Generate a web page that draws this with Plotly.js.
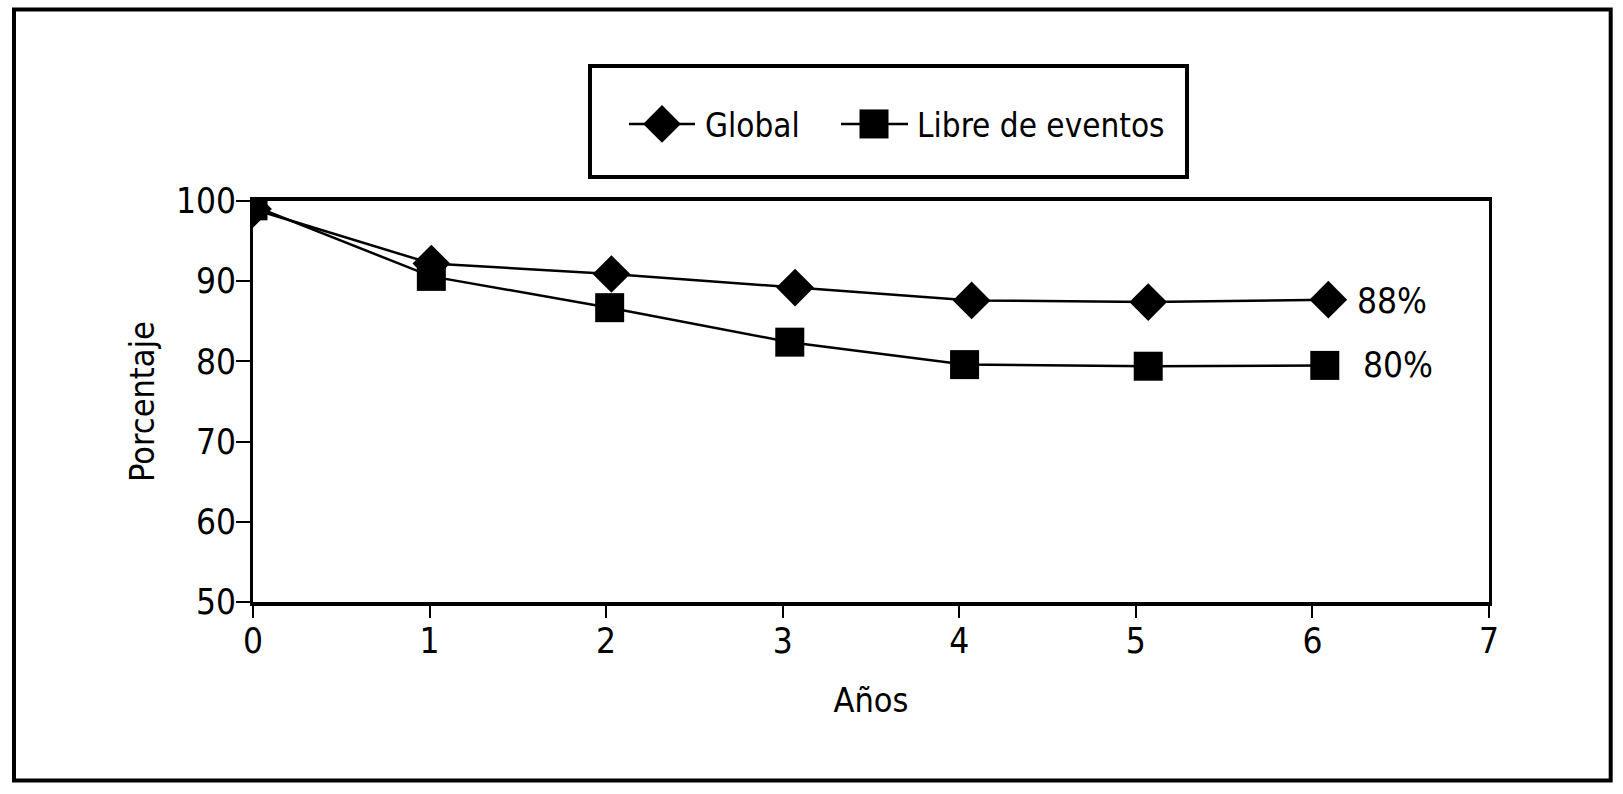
<!DOCTYPE html>
<html><head><meta charset="utf-8">
<script src="https://cdn.plot.ly/plotly-3.0.1.min.js"></script>
<style>html,body{margin:0;padding:0;background:#fff}#chart{width:1623px;height:794px}</style>
</head><body><div id="chart"></div>
<script>
// ---- data ----
const seriesNames = ['Global', 'Libre de eventos'];
const yearsGlobal = [0, 1.01, 2.03, 3.07, 4.07, 5.07, 6.09];
const valuesGlobal = [99.0, 92.2, 90.9, 89.2, 87.6, 87.4, 87.7];
const yearsLibre = [0, 1.01, 2.02, 3.04, 4.03, 5.07, 6.07];
const valuesLibre = [99.4, 90.6, 86.7, 82.4, 79.6, 79.4, 79.5];
const endLabels = ['88%', '80%'];
const xTickVals = [0, 1, 2, 3, 4, 5, 6, 7];
const yTickVals = [50, 60, 70, 80, 90, 100];
const xTitle = 'Años';
const yTitle = 'Porcentaje';

const FONT = '"Liberation Sans Narrow", "DejaVu Sans Condensed", "Arial Narrow", sans-serif';
const FS = 35;
const BLACK = '#000';
const MARKER_SIZE = 29;
const LEGEND_MARKER_SIZE = 16; // plotly caps legend marker size at 16

const traces = [
  {x: yearsGlobal, y: valuesGlobal, name: seriesNames[0], type: 'scatter', mode: 'lines+markers',
   line: {color: BLACK, width: 2.5}, marker: {symbol: 'diamond', size: MARKER_SIZE, color: BLACK}, legend: 'legend'},
  {x: yearsLibre, y: valuesLibre, name: seriesNames[1], type: 'scatter', mode: 'lines+markers',
   line: {color: BLACK, width: 2.5}, marker: {symbol: 'square', size: MARKER_SIZE, color: BLACK}, legend: 'legend2'}
];

const legendCommon = {orientation: 'h', bgcolor: 'rgba(0,0,0,0)', borderwidth: 0, itemwidth: 66,
  font: {family: FONT, size: 33, color: BLACK}, yanchor: 'middle', xanchor: 'left', y: 1.19202,
  itemclick: false, itemdoubleclick: false};

const layout = {
  width: 1623, height: 794,
  paper_bgcolor: '#fff', plot_bgcolor: '#fff',
  margin: {l: 253, r: 134, t: 201, b: 192},
  font: {family: FONT, size: FS, color: BLACK},
  showlegend: true,
  legend: Object.assign({}, legendCommon, {x: 0.30016}),
  legend2: Object.assign({}, legendCommon, {x: 0.47573}),
  xaxis: {range: [0, 7], tickvals: xTickVals, ticks: 'outside', ticklen: 12, tickwidth: 2, tickcolor: BLACK,
    showline: true, linewidth: 4, linecolor: BLACK, mirror: true, showgrid: false, zeroline: false,
    ticklabelstandoff: -7,
    tickfont: {family: FONT, size: FS, color: BLACK},
    title: {text: xTitle, font: {family: FONT, size: 34, color: BLACK}, standoff: 29}},
  yaxis: {range: [50, 100], tickvals: yTickVals, ticks: 'outside', ticklen: 14, tickwidth: 2, tickcolor: BLACK,
    showline: true, linewidth: 3, linecolor: BLACK, mirror: true, showgrid: false, zeroline: false,
    ticklabelstandoff: -7,
    tickfont: {family: FONT, size: FS, color: BLACK},
    title: {text: yTitle, font: {family: FONT, size: 34, color: BLACK}, standoff: 12}},
  annotations: [
    {x: yearsGlobal[yearsGlobal.length - 1], y: valuesGlobal[valuesGlobal.length - 1], xref: 'x', yref: 'y',
     text: endLabels[0], showarrow: false, xanchor: 'left', yanchor: 'middle', xshift: 27, yshift: -1,
     font: {family: FONT, size: FS, color: BLACK}},
    {x: yearsLibre[yearsLibre.length - 1], y: valuesLibre[valuesLibre.length - 1], xref: 'x', yref: 'y',
     text: endLabels[1], showarrow: false, xanchor: 'left', yanchor: 'middle', xshift: 36, yshift: 0,
     font: {family: FONT, size: FS, color: BLACK}}
  ],
  shapes: [
    {type: 'rect', xref: 'paper', yref: 'paper', x0: -0.19337, x1: 1.09846, y0: -0.44514, y1: 1.47756,
     line: {color: BLACK, width: 4}, fillcolor: 'rgba(0,0,0,0)', layer: 'below'},
    {type: 'rect', xref: 'paper', yref: 'paper', x0: 0.27265, x1: 0.75566, y0: 1.05985, y1: 1.33666,
     line: {color: BLACK, width: 4}, fillcolor: 'rgba(0,0,0,0)', layer: 'below'}
  ]
};

// legend symbol geometry (px inside each legend item): line start/length, marker centre, text start
const legendGeom = [
  {lineStart: 5, lineLen: 66, markerX: 38, textX: 81},
  {lineStart: -1, lineLen: 68, markerX: 33, textX: null}
];

function traceIndexOf(item, fallback) {
  const d = item.__data__;
  if (d && d[0] && d[0].trace && typeof d[0].trace.index === 'number') return d[0].trace.index;
  return fallback;
}

function fixLegend(gd) {
  const k = MARKER_SIZE / LEGEND_MARKER_SIZE;
  const items = gd.querySelectorAll('g.traces');
  items.forEach(function (item, order) {
    const idx = traceIndexOf(item, order);
    const g = legendGeom[idx];
    if (!g) return;
    item.querySelectorAll('path.scatterpts').forEach(function (pt) {
      pt.style.transform = 'translate(' + g.markerX + 'px,0px) scale(' + k + ')';
    });
    item.querySelectorAll('.legendlines path').forEach(function (ln) {
      ln.setAttribute('d', 'M' + g.lineStart + ',0h' + g.lineLen);
    });
    const t = item.querySelector('text.legendtext');
    if (t && g.textX !== null) t.setAttribute('x', g.textX);
  });
}

Plotly.newPlot('chart', traces, layout, {displayModeBar: false, staticPlot: true}).then(function (gd) {
  fixLegend(gd);
  requestAnimationFrame(function () { fixLegend(gd); });
  setTimeout(function () { fixLegend(gd); }, 100);
  setTimeout(function () { fixLegend(gd); }, 400);
});
</script>
</body></html>
